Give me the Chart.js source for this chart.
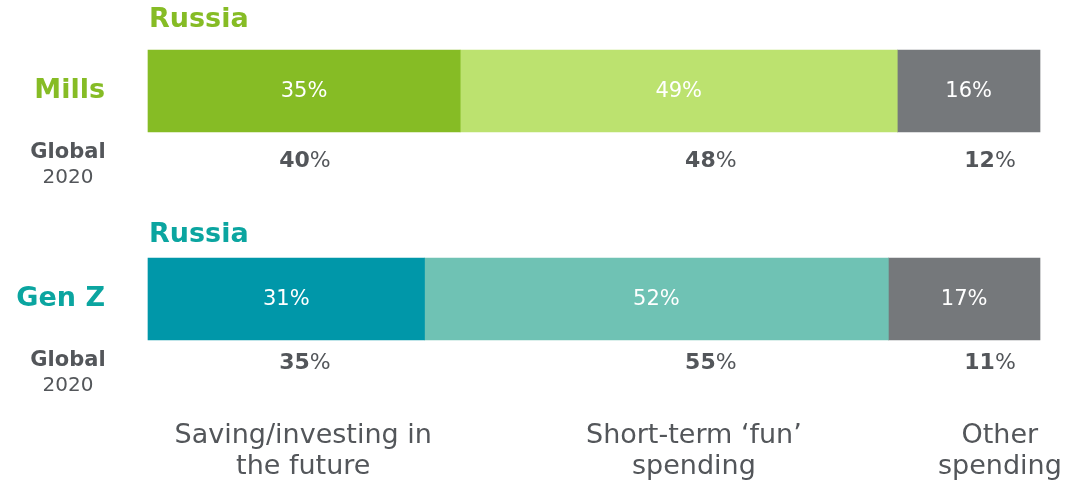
<!DOCTYPE html>
<html>
<head>
<meta charset="utf-8">
<script src="https://cdn.jsdelivr.net/npm/chart.js@4.4.1/dist/chart.umd.min.js"></script>
<style>
  html, body { margin: 0; padding: 0; background: #fff; }
  #wrap { width: 1089px; height: 484px; position: relative; }
</style>
</head>
<body>
<div id="wrap"><canvas id="spend"></canvas></div>
<script>
// ─── Data ───
const groups = ['Mills', 'Gen Z'];
const categories = [['Saving/investing in', 'the future'], ['Short-term \u2018fun\u2019', 'spending'], ['Other', 'spending']];
const russiaSaving = [35, 31];
const russiaFun    = [49, 52];
const russiaOther  = [16, 17];
const globalSaving = [40, 35];
const globalFun    = [48, 55];
const globalOther  = [12, 11];

// ─── Colours ───
const C = {
    green:      '#86BC25',
    greenLight: '#BCE26F',
    teal:       '#0097A9',
    tealLight:  '#6FC2B4',
    tealText:   '#0BA5A0',
    grey:       '#75787B',
    text:       '#53565A',
};
const labelColors = [C.green, C.tealText];

// column centres (in % of x scale) for the Global 2020 row and the category captions
const globalCols = [17.6, 63.1, 94.4];
const captionCols = [17.4, 61.2, 95.5];

const BOLD = 'bold 27px "DejaVu Sans"';

// ─── Overlay text ───
const overlay = {
    id: 'overlay',
    afterDatasetsDraw(chart) {
        const ctx = chart.ctx;
        ctx.save();
        ctx.fillStyle = '#fff';
        ctx.font = '21px "DejaVu Sans"';
        ctx.textAlign = 'center';
        ctx.textBaseline = 'middle';
        chart.data.datasets.forEach((ds, i) => {
            chart.getDatasetMeta(i).data.forEach((bar, j) => {
                const cx = (bar.x + bar.base) / 2;
                ctx.fillText(ds.data[j] + '%', cx, bar.y + 1);
            });
        });
        ctx.restore();
    },
    afterDraw(chart) {
        const ctx = chart.ctx;
        const x = chart.scales.x;
        const y = chart.scales.y;
        const globals = [globalSaving, globalFun, globalOther];
        const titleOff = [-71, -64];
        const globOff = [70, 64];
        ctx.save();
        ctx.textBaseline = 'middle';
        groups.forEach((g, j) => {
            const cy = y.getPixelForValue(j);
            // Russia title
            ctx.font = BOLD;
            ctx.textAlign = 'left';
            ctx.fillStyle = labelColors[j];
            ctx.fillText('Russia', x.left + 1, cy + titleOff[j]);
            // Global 2020 caption
            ctx.textAlign = 'center';
            ctx.fillStyle = C.text;
            ctx.font = 'bold 21px "DejaVu Sans"';
            ctx.fillText('Global', 68, cy + 62);
            ctx.font = '20px "DejaVu Sans"';
            ctx.fillText('2020', 68, cy + 87);
            // Global values: bold number + regular %
            globals.forEach((arr, k) => {
                const num = String(arr[j]);
                ctx.font = 'bold 22px "DejaVu Sans"';
                const wn = ctx.measureText(num).width;
                ctx.font = '22px "DejaVu Sans"';
                const wp = ctx.measureText('%').width;
                const left = x.getPixelForValue(globalCols[k]) - (wn + wp) / 2;
                ctx.textAlign = 'left';
                ctx.font = 'bold 22px "DejaVu Sans"';
                ctx.fillText(num, left, cy + globOff[j]);
                ctx.font = '22px "DejaVu Sans"';
                ctx.fillText('%', left + wn, cy + globOff[j]);
            });
        });
        // category captions
        ctx.textAlign = 'center';
        ctx.fillStyle = C.text;
        ctx.font = '27px "DejaVu Sans"';
        categories.forEach((lines, k) => {
            const cx = x.getPixelForValue(captionCols[k]);
            lines.forEach((t, l) => ctx.fillText(t, cx, 436 + l * 31));
        });
        ctx.restore();
    }
};

new Chart(document.getElementById('spend'), {
    type: 'bar',
    data: {
        labels: groups,
        datasets: [
            { label: 'Saving/investing', data: russiaSaving, backgroundColor: [C.green, C.teal] },
            { label: 'Short-term fun',   data: russiaFun,    backgroundColor: [C.greenLight, C.tealLight] },
            { label: 'Other',            data: russiaOther,  backgroundColor: [C.grey, C.grey] },
        ]
    },
    options: {
        indexAxis: 'y',
        responsive: true,
        maintainAspectRatio: false,
        animation: false,
        layout: { padding: { top: 91, bottom: 185, right: 49, left: 0 } },
        datasets: { bar: { barThickness: 82, borderWidth: 0, clip: false } },
        scales: {
            x: { stacked: true, min: 0, max: 100, display: false },
            y: {
                stacked: true,
                offset: false,
                grid: { display: false, drawTicks: false },
                border: { display: false },
                afterFit: s => { s.width = 148; },
                ticks: {
                    padding: 43,
                    font: { family: '"DejaVu Sans"', size: 27, weight: 'bold' },
                    color: c => labelColors[c.index]
                }
            }
        },
        plugins: { legend: { display: false }, tooltip: { enabled: false } }
    },
    plugins: [overlay]
});
</script>
</body>
</html>
